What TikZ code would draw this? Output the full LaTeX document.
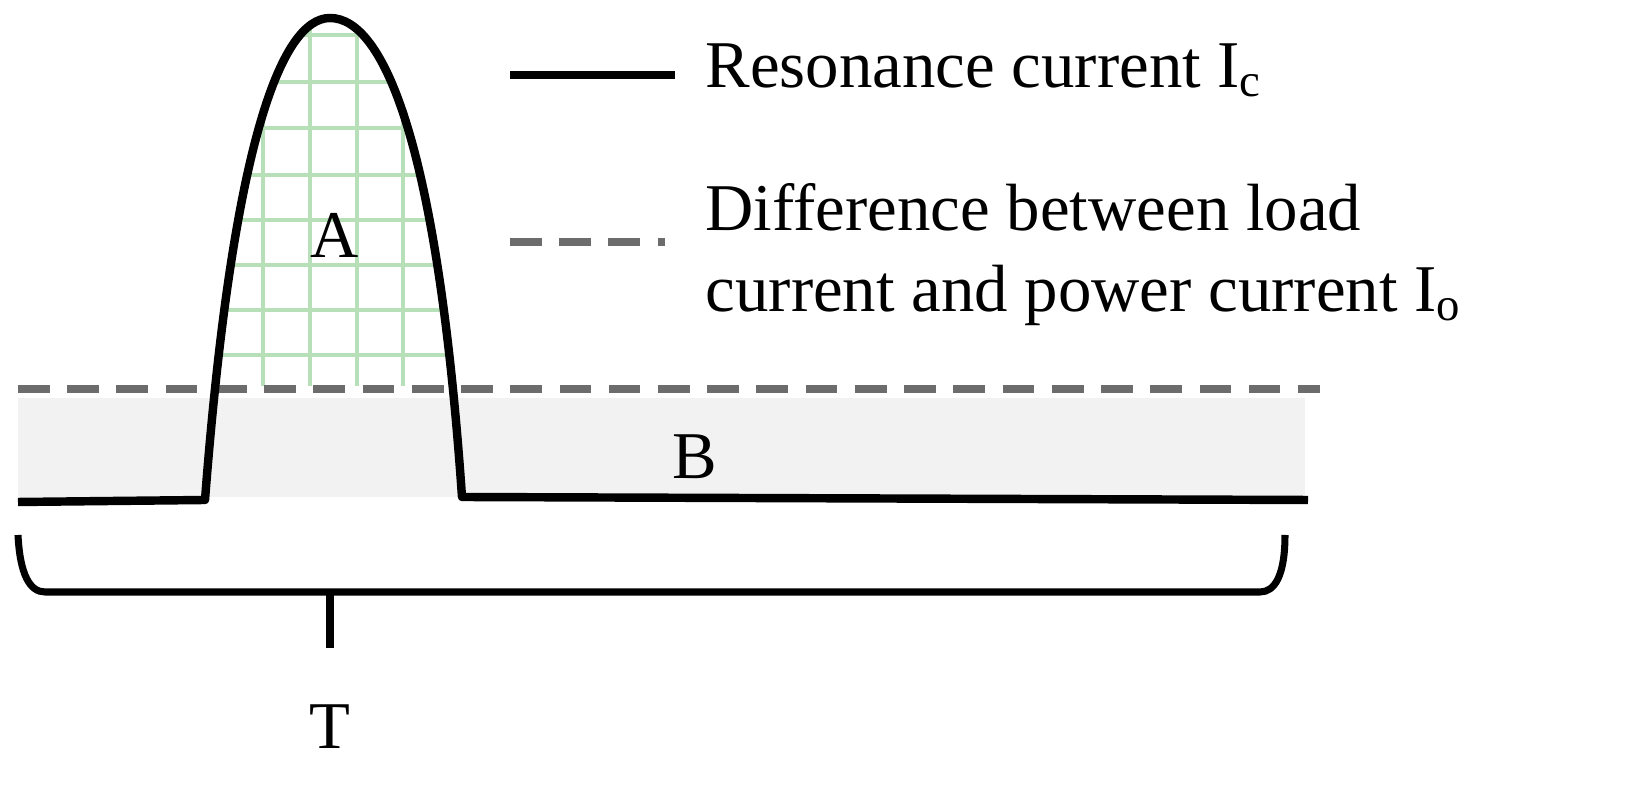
\documentclass[tikz,border=0pt]{standalone}
\usepackage{fontspec}
\setmainfont{Liberation Serif}
\newfontfamily\tnr{Liberation Serif}
\begin{document}
\begin{tikzpicture}[x=0.01cm,y=-0.01cm,
  curr/.style={line width=2.4pt,black},
  diff/.style={line width=2.2pt,gray!85!black,dash pattern=on 9pt off 5pt},
  lbl/.style={font=\tnr\fontsize{19}{23}\selectfont,inner sep=0pt}]
\fill[gray!10] (18,398) rectangle (1305,497);
\begin{scope}
\clip (205,500) .. controls (232,150) and (280,18) .. (330,18) .. controls (385,18) and (438,150) .. (462,497) -- cycle;
\clip (0,0) rectangle (1629,386);
\foreach \x in {263,310,357,403} \draw[line width=1.3pt,green!40!gray!40] (\x,0)--(\x,400);
\foreach \y in {35,82,128,175,220,265,310,355} \draw[line width=1.3pt,green!40!gray!40] (150,\y)--(500,\y);
\end{scope}
\draw[diff] (18,389) coordinate (d1) -- (1320,389) coordinate (d2);
\draw[curr,line join=round] (18,502) -- (205,500) .. controls (232,150) and (280,18) .. (330,18) .. controls (385,18) and (438,150) .. (462,497) -- (1308,500);
\draw[line width=2pt] (18,535) .. controls (20,575) and (30,592) .. (45,592) -- (1260,592) .. controls (1275,592) and (1285,575) .. (1285,535);
\draw[line width=2pt] (330,592) -- (330,648);
\node[lbl] (A) at (335,235) {A};
\node[lbl] (B) at (695,457) {B};
\node[lbl] (T) at (330,727) {T};
\draw[curr] (510,75) coordinate (l1) -- (675,75) coordinate (l2);
\node[lbl,anchor=west] (t1) at (705,70) {Resonance current I\textsubscript{c}};
\draw[diff] (510,242) coordinate (l3) -- (665,242) coordinate (l4);
\node[lbl,anchor=west,align=left] (t2) at (705,255) {Difference between load\\current and power current I\textsubscript{o}};
\pgfresetboundingbox
\useasboundingbox (0,0) rectangle (1629,789);
\end{tikzpicture}
\end{document}
